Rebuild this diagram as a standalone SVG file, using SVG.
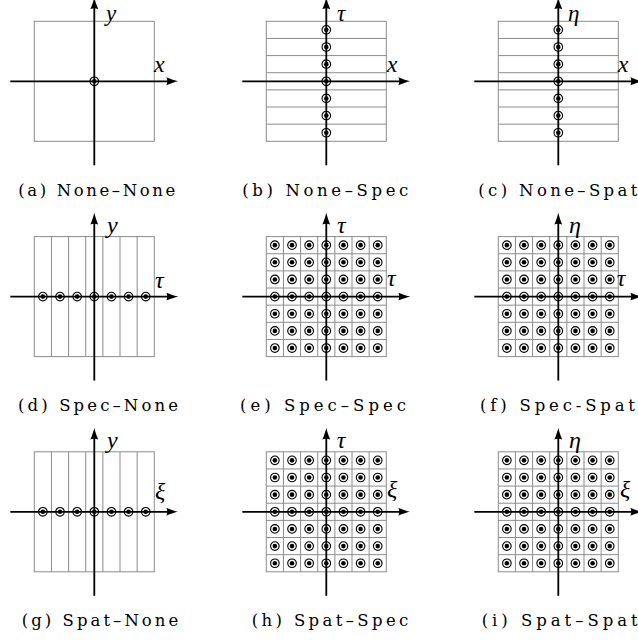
<svg xmlns="http://www.w3.org/2000/svg" xmlns:xlink="http://www.w3.org/1999/xlink" width="638" height="640" viewBox="0 0 638 640">
  <style>
    .frame{fill:none;stroke:#8c8c8c;stroke-width:1}
    .axis{fill:none;stroke:#000;stroke-width:1.8;marker-end:url(#arr)}
    .lbl{font-family:"Liberation Serif","DejaVu Serif",serif;font-style:italic;font-size:24px;fill:#000}
    .top1{font-size:23px}
    .cap{font-family:"DejaVu Serif","Liberation Serif",serif;font-size:16.5px;fill:#000}
  </style>
  <defs>
    <!-- curved LaTeX-style arrow tip; tip lies 5px past the line end -->
    <marker id="arr" markerUnits="userSpaceOnUse" viewBox="0 0 12 8" markerWidth="12" markerHeight="8" refX="7" refY="4" orient="auto">
      <path d="M12,4 C9,4.6 4.5,6 0,8 C1.3,6 1.3,2 0,0 C4.5,2 9,3.4 12,4 Z" fill="#000"/>
    </marker>
    <!-- sample point: ring with centre dot -->
    <g id="cd"><circle r="4.3" fill="#fff" stroke="#000" stroke-width="1.1"/><circle r="2.3" fill="#000"/></g>
    <g id="dotRow">
      <use href="#cd" x="8.57"/><use href="#cd" x="25.71"/><use href="#cd" x="42.86"/><use href="#cd" x="60"/>
      <use href="#cd" x="77.14"/><use href="#cd" x="94.29"/><use href="#cd" x="111.43"/>
    </g>
    <g id="dotCol">
      <use href="#cd" y="8.57"/><use href="#cd" y="25.71"/><use href="#cd" y="42.86"/><use href="#cd" y="60"/>
      <use href="#cd" y="77.14"/><use href="#cd" y="94.29"/><use href="#cd" y="111.43"/>
    </g>
    <g id="dotGrid">
      <use href="#dotRow" y="8.57"/><use href="#dotRow" y="25.71"/><use href="#dotRow" y="42.86"/><use href="#dotRow" y="60"/>
      <use href="#dotRow" y="77.14"/><use href="#dotRow" y="94.29"/><use href="#dotRow" y="111.43"/>
    </g>
    <rect id="box" class="frame" x="0" y="0" width="120" height="120"/>
    <path id="hgrid" class="frame" d="M0,17.14H120M0,34.29H120M0,51.43H120M0,68.57H120M0,85.71H120M0,102.86H120"/>
    <path id="vgrid" class="frame" d="M17.14,0V120M34.29,0V120M51.43,0V120M68.57,0V120M85.71,0V120M102.86,0V120"/>
    <g id="axes">
      <path class="axis" d="M-24,60H139"/>
      <path class="axis" d="M60,144V-19"/>
    </g>
  </defs>

  <!-- row 1 -->
  <g id="panel-a">
    <g transform="translate(34.3,21.3)">
      <use href="#box"/>
      <use href="#cd" x="60" y="60"/>
      <use href="#axes"/>
      <text class="lbl top1" x="71.7" y="-0.7">y</text>
      <text class="lbl" x="119.7" y="50.7">x</text>
    </g>
    <text class="cap" x="18.3" y="196" textLength="157" lengthAdjust="spacing">(a) None–None</text>
  </g>

  <g id="panel-b">
    <g transform="translate(266.3,21.3)">
      <use href="#box"/>
      <use href="#hgrid"/>
      <use href="#dotCol" x="60"/>
      <use href="#axes"/>
      <text class="lbl top1" x="70.7" y="-0.7">τ</text>
      <text class="lbl" x="120.4" y="50.7">x</text>
    </g>
    <text class="cap" x="242.3" y="196" textLength="166" lengthAdjust="spacing">(b) None–Spec</text>
  </g>

  <g id="panel-c">
    <g transform="translate(498.3,21.3)">
      <use href="#box"/>
      <use href="#hgrid"/>
      <use href="#dotCol" x="60"/>
      <use href="#axes"/>
      <text class="lbl top1" x="69.7" y="-0.7">η</text>
      <text class="lbl" x="119.4" y="50.7">x</text>
    </g>
    <text class="cap" x="478.3" y="196" textLength="159" lengthAdjust="spacing">(c) None–Spat</text>
  </g>

  <!-- row 2 -->
  <g id="panel-d">
    <g transform="translate(34.3,236.6)">
      <use href="#box"/>
      <use href="#vgrid"/>
      <use href="#dotRow" y="60"/>
      <use href="#axes"/>
      <text class="lbl" x="72.7" y="-3.6">y</text>
      <text class="lbl" x="120.7" y="51.4">τ</text>
    </g>
    <text class="cap" x="18" y="411" textLength="160" lengthAdjust="spacing">(d) Spec–None</text>
  </g>

  <g id="panel-e">
    <g transform="translate(266.3,236.6)">
      <use href="#box"/>
      <use href="#hgrid"/>
      <use href="#vgrid"/>
      <use href="#dotGrid"/>
      <use href="#axes"/>
      <text class="lbl" x="70.7" y="-3.6">τ</text>
      <text class="lbl" x="120.7" y="49.4">τ</text>
    </g>
    <text class="cap" x="240" y="411" textLength="166" lengthAdjust="spacing">(e) Spec–Spec</text>
  </g>

  <g id="panel-f">
    <g transform="translate(498.3,236.6)">
      <use href="#box"/>
      <use href="#hgrid"/>
      <use href="#vgrid"/>
      <use href="#dotGrid"/>
      <use href="#axes"/>
      <text class="lbl" x="70.7" y="-3.6">η</text>
      <text class="lbl" x="118.4" y="49.4">τ</text>
    </g>
    <text class="cap" x="480" y="411" textLength="155" lengthAdjust="spacing">(f) Spec-Spat</text>
  </g>

  <!-- row 3 -->
  <g id="panel-g">
    <g transform="translate(34.3,451.8)">
      <use href="#box"/>
      <use href="#vgrid"/>
      <use href="#dotRow" y="60"/>
      <use href="#axes"/>
      <text class="lbl" x="72.7" y="-3.8">y</text>
      <text class="lbl" x="120.7" y="47.2">ξ</text>
    </g>
    <text class="cap" x="21.7" y="626" textLength="156.6" lengthAdjust="spacing">(g) Spat–None</text>
  </g>

  <g id="panel-h">
    <g transform="translate(266.3,451.8)">
      <use href="#box"/>
      <use href="#hgrid"/>
      <use href="#vgrid"/>
      <use href="#dotGrid"/>
      <use href="#axes"/>
      <text class="lbl" x="70.4" y="-3.8">τ</text>
      <text class="lbl" x="120.7" y="45.2">ξ</text>
    </g>
    <text class="cap" x="251.7" y="626" textLength="156.6" lengthAdjust="spacing">(h) Spat–Spec</text>
  </g>

  <g id="panel-i">
    <g transform="translate(498.3,451.8)">
      <use href="#box"/>
      <use href="#hgrid"/>
      <use href="#vgrid"/>
      <use href="#dotGrid"/>
      <use href="#axes"/>
      <text class="lbl" x="70.7" y="-3.8">η</text>
      <text class="lbl" x="121.7" y="45.2">ξ</text>
    </g>
    <text class="cap" x="481.7" y="626" textLength="156" lengthAdjust="spacing">(i) Spat–Spat</text>
  </g>
</svg>
